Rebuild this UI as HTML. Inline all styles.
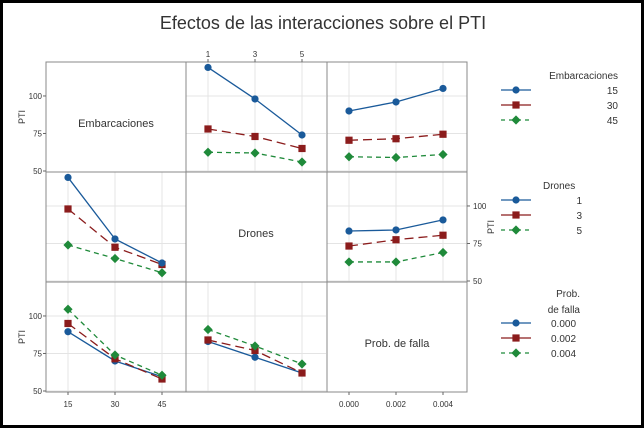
<!DOCTYPE html>
<html><head><meta charset="utf-8"><style>
html,body{margin:0;padding:0;background:#fff;}
svg{display:block;font-family:"Liberation Sans",sans-serif;}
</style></head><body>
<svg id="c" width="644" height="428" viewBox="0 0 644 428">
<rect x="1.5" y="1.5" width="641" height="425" fill="#fff" stroke="#000" stroke-width="3"/>
<text x="323" y="29" text-anchor="middle" font-size="18" fill="#333">Efectos de las interacciones sobre el PTI</text>
<g id="g"></g>
</svg>
<script>
// categories
const embLevels = ["15","30","45"];
const droLevels = ["1","3","5"];
const probLevels = ["0.000","0.002","0.004"];
const yTicks = [50,75,100];
// panel: Drones on x, Embarcaciones series
const p01_e15 = [119,98,74];
const p01_e30 = [78,73,65];
const p01_e45 = [62.5,62,56];
// panel: Prob on x, Embarcaciones series
const p02_e15 = [90,96,105];
const p02_e30 = [70.5,71.5,74.5];
const p02_e45 = [59.5,59,61];
// panel: Embarcaciones on x, Drones series
const p10_d1 = [119,78,62];
const p10_d3 = [98,72.5,61];
const p10_d5 = [74,65,55.5];
// panel: Prob on x, Drones series
const p12_d1 = [83.3,84,90.7];
const p12_d3 = [73.3,77.5,80.5];
const p12_d5 = [62.7,62.7,69];
// panel: Embarcaciones on x, Prob series
const p20_p0 = [89.5,70,59.5];
const p20_p2 = [95,71.5,58];
const p20_p4 = [104.5,74,60.5];
// panel: Drones on x, Prob series
const p21_p0 = [83,72.5,62];
const p21_p2 = [84,77,62];
const p21_p4 = [91,80,68];

const NS="http://www.w3.org/2000/svg";
const g=document.getElementById('g');
const colX=[46,186,327], colW=140;
const rowY=[62,172,282], rowH=110;
const yMin=50, yMax=123.3;
function yPos(r,v){return rowY[r]+rowH-(v-yMin)/(yMax-yMin)*rowH+ -1;}
function xPos(c,i){return colX[c]+22+i*47;}
const cols=["#1a5a9a","#8b1c1c","#1f8a3a"];
const dashes=["","9,5","5,4"];
function el(t,a){const e=document.createElementNS(NS,t);for(const k in a)e.setAttribute(k,a[k]);g.appendChild(e);return e;}
function marker(k,x,y){
  let m;
  if(k===0)m=el('circle',{cx:x,cy:y,r:3.6,fill:cols[0]});
  else if(k===1)m=el('rect',{x:x-3.6,y:y-3.6,width:7.2,height:7.2,fill:cols[1]});
  else m=el('polygon',{points:`${x},${y-4.6} ${x+4.6},${y} ${x},${y+4.6} ${x-4.6},${y}`,fill:cols[2]});
  return m;
}
// grid & panels
for(let r=0;r<3;r++)for(let c=0;c<3;c++){
  if(r!==c){
    for(let i=0;i<3;i++){const l=el('line',{x1:xPos(c,i),x2:xPos(c,i),y1:rowY[r],y2:rowY[r]+rowH,stroke:"#e4e4e4"});
      }
    yTicks.forEach(t=>{const l=el('line',{x1:colX[c],x2:colX[c]+colW,y1:yPos(r,t),y2:yPos(r,t),stroke:"#e4e4e4"});
      });
  }
}
const fr=el('rect',{x:46,y:62,width:421,height:330,fill:"none",stroke:"#888"});

[186,327].forEach(x=>{const l=el('line',{x1:x,x2:x,y1:62,y2:392,stroke:"#888"});});
[172,282].forEach(y=>{const l=el('line',{x1:46,x2:467,y1:y,y2:y,stroke:"#888"});});
// diagonal labels
const diag=["Embarcaciones","Drones","Prob. de falla"];
diag.forEach((d,i)=>{const t=el('text',{x:colX[i]+colW/2,y:rowY[i]+rowH/2+10,'text-anchor':'middle','font-size':11,fill:'#333'});t.textContent=d;
 });
// y axes
function yAxis(r,x,side){
  yTicks.forEach(t=>{const y=yPos(r,t);
    el('line',{x1:x,x2:x+(side<0?-3:3),y1:y,y2:y,stroke:'#666'});
    const tx=el('text',{x:x+(side<0?-4:6),y:y+3,'text-anchor':side<0?'end':'start','font-size':8,fill:'#333'});tx.textContent=t;
    });
  const lx=side<0?x-21:x+27, ly=rowY[r]+rowH/2;
  const lb=el('text',{x:lx,y:ly,'text-anchor':'middle','font-size':9,fill:'#333',transform:`rotate(-90 ${lx} ${ly})`});lb.textContent="PTI";
  
}
yAxis(0,46,-1);yAxis(2,46,-1);yAxis(1,467,1);
// x axes
function xAxis(c,y,labels,up){
  labels.forEach((s,i)=>{const x=xPos(c,i);
    el('line',{x1:x,x2:x,y1:y,y2:y+(up?-3:3),stroke:'#666'});
    const t=el('text',{x:x,y:up?y-5:y+15,'text-anchor':'middle','font-size':8,fill:'#333'});t.textContent=s;
    });
}
xAxis(0,392,embLevels,false);xAxis(2,392,probLevels,false);xAxis(1,62,droLevels,true);
// series
function series(r,c,vals,k,name){
  const pts=vals.map((v,i)=>xPos(c,i)+","+yPos(r,v)).join(" ");
  const pl=el('polyline',{points:pts,fill:'none',stroke:cols[k],'stroke-width':1.3,'stroke-dasharray':dashes[k]});
  
  vals.forEach((v,i)=>{const m=marker(k,xPos(c,i),yPos(r,v));
    });
}
series(0,1,p01_e45,2,'emb45');series(0,1,p01_e30,1,'emb30');series(0,1,p01_e15,0,'emb15');
series(0,2,p02_e45,2,'emb45');series(0,2,p02_e30,1,'emb30');series(0,2,p02_e15,0,'emb15');
series(1,0,p10_d5,2,'dron5');series(1,0,p10_d3,1,'dron3');series(1,0,p10_d1,0,'dron1');
series(1,2,p12_d5,2,'dron5');series(1,2,p12_d3,1,'dron3');series(1,2,p12_d1,0,'dron1');
series(2,0,p20_p0,0,'prob0');series(2,0,p20_p2,1,'prob2');series(2,0,p20_p4,2,'prob4');
series(2,1,p21_p0,0,'prob0');series(2,1,p21_p2,1,'prob2');series(2,1,p21_p4,2,'prob4');
// legends
function legend(titles,titleX,titleY,anchor,y0,labels,lx,la,name){
  titles.forEach((s,i)=>{const t=el('text',{x:titleX,y:titleY+i*16,'text-anchor':anchor,'font-size':10,fill:'#333'});t.textContent=s;
    });
  labels.forEach((s,k)=>{const y=y0+k*15;
    const l=el('line',{x1:501,x2:531,y1:y,y2:y,stroke:cols[k],'stroke-width':1.3,'stroke-dasharray':k==2?"4,4":""});
    
    const m=marker(k,516,y);
    const t=el('text',{x:lx,y:y+4,'text-anchor':la,'font-size':10,fill:'#333'});t.textContent=s;
    });
}
legend(["Embarcaciones"],618,79,'end',90,embLevels,618,'end','emb');
legend(["Drones"],543,189,'start',200,droLevels,582,'end','drones');
legend(["Prob.","de falla"],580,297,'end',323,probLevels,551,'start','prob');
</script>
</body></html>
